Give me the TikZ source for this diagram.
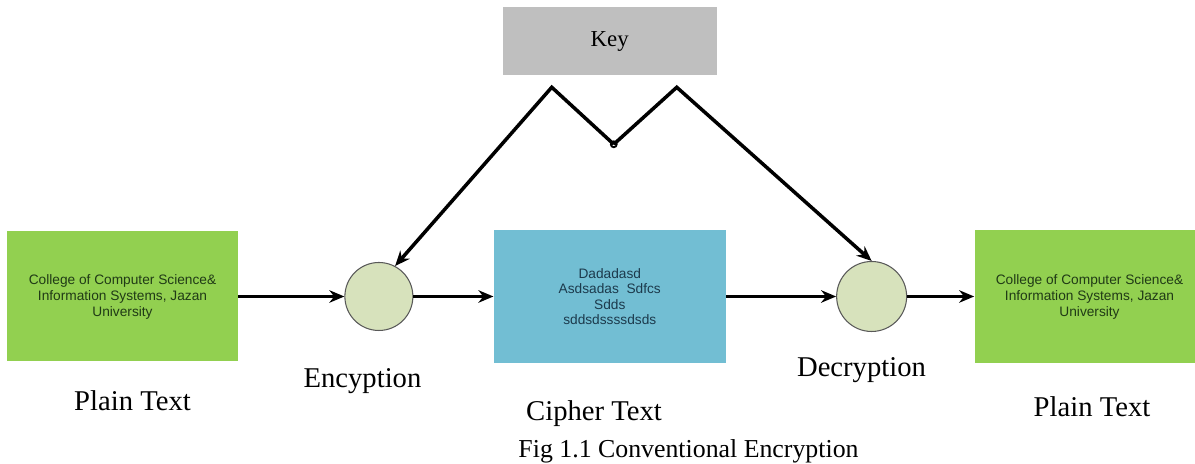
\documentclass[tikz,border=0pt]{standalone}
\usepackage{fontspec}
\setmainfont{Liberation Serif}
\setsansfont{Liberation Sans}
\usepackage{xcolor}
\usepackage{tikz}
\usetikzlibrary{arrows.meta, positioning, calc}
\definecolor{plaingreen}{RGB}{146,208,80}
\definecolor{cipherblue}{RGB}{114,190,211}
\definecolor{keygray}{RGB}{191,191,191}
\definecolor{stagefill}{RGB}{215,226,188}
\definecolor{greentext}{RGB}{32,58,22}
\definecolor{bluetext}{RGB}{28,58,76}

\begin{document}
\begin{tikzpicture}[
    textbox/.style={rectangle, fill=plaingreen, text=greentext, minimum width=4.62cm, minimum height=2.6cm, align=center, inner sep=0pt, font=\sffamily\fontsize{7.8}{9.1}\selectfont},
    stage/.style={circle, fill=stagefill, draw=black!65, line width=0.6pt, minimum size=1.36cm, inner sep=0pt},
    link/.style={-{Stealth[length=0.3cm, width=0.25cm]}, line width=2pt, draw=black},
    caption/.style={font=\fontsize{16.3}{19}\selectfont, anchor=base}
]
\useasboundingbox (0,0) rectangle (23.9,9.28);

% Blocks
\node[textbox] (plainL) at (2.45,3.35) {College of Computer Science\&\\Information Systems, Jazan\\University};
\node[stage, right=2.12cm of plainL] (enc) {};
\node[textbox, fill=cipherblue, text=bluetext, minimum width=4.64cm, minimum height=2.66cm, font=\sffamily\fontsize{7.8}{8.8}\selectfont, right=1.6cm of enc] (cipher) {Dadadasd\\Asdsadas\ \ Sdfcs\\Sdds\\sddsdssssdsds};
\node[stage, minimum size=1.4cm, right=2.2cm of cipher] (dec) {};
\node[textbox, minimum width=4.6cm, minimum height=2.66cm, right=1.34cm of dec] (plainR) {College of Computer Science\&\\Information Systems, Jazan\\University};
\node[rectangle, fill=keygray, minimum width=4.28cm, minimum height=1.36cm, font=\fontsize{13}{15}\selectfont, above=3.08cm of cipher] (key) {Key};

% Labels
\node[caption] (lblPlainL) at (2.65,1.06) {Plain Text};
\node[caption] (lblEnc) at (7.25,1.52) {Encyption};
\node[caption] (lblCipher) at (11.88,0.86) {Cipher Text};
\node[caption] (lblDec) at (17.23,1.74) {Decryption};
\node[caption] (lblPlainR) at (21.84,0.94) {Plain Text};
\node[anchor=base, font=\fontsize{14.7}{17}\selectfont] (fig) at (13.77,0.12) {Fig 1.1 Conventional Encryption};

% Key path
\coordinate (peakA) at ($(key)+(-1.16,-0.92)$);
\coordinate (valley) at ($(key)+(0.08,-2.06)$);
\coordinate (peakB) at ($(key)+(1.34,-0.92)$);
\draw[link] (valley) -- (peakA) -- (enc.62);
\draw[link] (valley) -- (peakB) -- (dec.north);
\draw[line width=1pt] (valley) circle (0.06);

% Flow
\draw[link] (plainL) -- (enc);
\draw[link] (enc) -- (cipher);
\draw[link] (cipher) -- (dec);
\draw[link] (dec) -- (plainR);

\end{tikzpicture}
\end{document}
